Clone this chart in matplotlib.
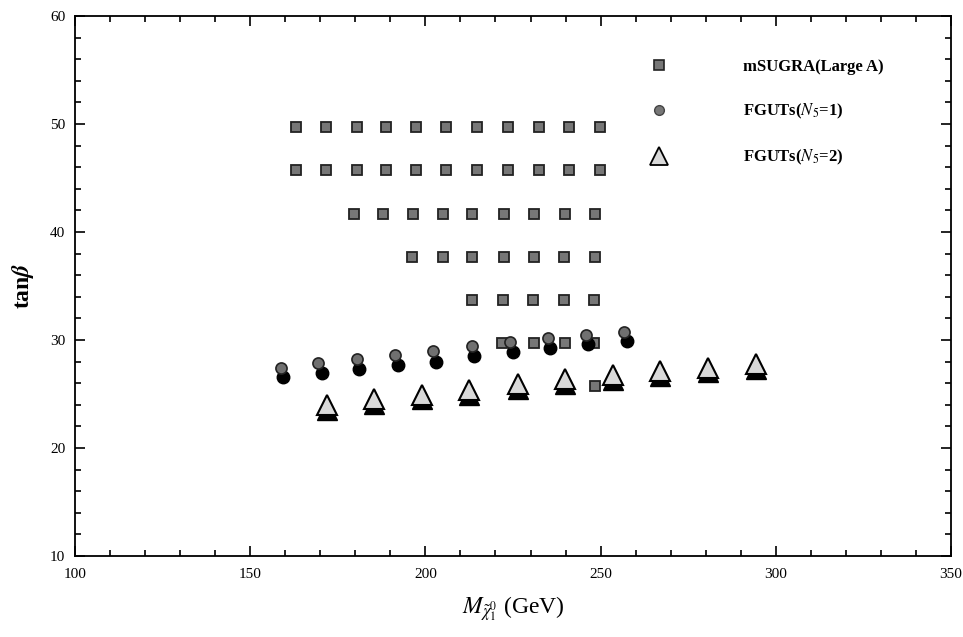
import matplotlib
matplotlib.use("Agg")
import matplotlib.pyplot as plt
from matplotlib.lines import Line2D
from matplotlib.ticker import MultipleLocator

plt.rcParams['font.family'] = ['Liberation Serif', 'DejaVu Serif']
plt.rcParams['mathtext.fontset'] = 'stix'

# mSUGRA (large A) grid, one list per tan(beta) row
sq_rows_tanb = [49.7, 45.7, 41.7, 37.7, 33.7, 29.7, 25.7]
sq_rows_mass = [
    [163.0, 171.6, 180.5, 188.8, 197.4, 206.0, 214.6, 223.6, 232.3, 240.9, 249.7],
    [163.0, 171.6, 180.5, 188.8, 197.4, 206.0, 214.6, 223.6, 232.3, 240.9, 249.7],
    [179.6, 188.0, 196.5, 204.9, 213.4, 222.3, 231.0, 239.8, 248.3],
    [196.3, 205.0, 213.4, 222.3, 230.9, 239.5, 248.3],
    [213.4, 222.1, 230.7, 239.5, 248.2],
    [222.0, 231.1, 239.8, 248.2],
    [248.3],
]

# FGUTs (N5=1): upper (grey) and lower (dark) points
n1_mass_a = [158.8, 169.3, 180.5, 191.3, 202.1, 213.3, 224.1, 235.0, 245.8, 256.7]
n1_tanb_a = [27.41, 27.87, 28.24, 28.61, 28.98, 29.44, 29.81, 30.19, 30.46, 30.74]
n1_mass_b = [159.4, 170.5, 181.0, 192.2, 203.0, 213.9, 225.0, 235.6, 246.4, 257.5]
n1_tanb_b = [26.55, 26.9, 27.35, 27.7, 28.0, 28.5, 28.85, 29.25, 29.6, 29.9]

# FGUTs (N5=2)
n2_mass = [171.9, 185.3, 199.0, 212.4, 226.4, 239.8, 253.5, 267.0, 280.7, 294.3]
n2_tanb_a = [23.95, 24.5, 24.95, 25.4, 25.9, 26.35, 26.75, 27.1, 27.45, 27.75]
n2_tanb_b = [23.5, 24.05, 24.5, 24.95, 25.45, 25.9, 26.3, 26.65, 27.0, 27.3]

fig = plt.figure(figsize=(9.63, 6.37), dpi=100)
ax = fig.add_axes([0.0779, 0.1272, 0.9096, 0.8477])

sq_x = [m for row in sq_rows_mass for m in row]
sq_y = [t for row, t in zip(sq_rows_mass, sq_rows_tanb) for _ in row]
ax.plot(sq_x, sq_y, 's', ms=7.5, mfc='#777777', mec='#222222', mew=1.3, ls='none')

ax.plot(n1_mass_b, n1_tanb_b, 'o', ms=9, mfc='black', mec='black', ls='none')
ax.plot(n1_mass_a, n1_tanb_a, 'o', ms=8, mfc='#707070', mec='#222222', mew=1.2, ls='none')

ax.plot(n2_mass, n2_tanb_b, '^', ms=14, mfc='black', mec='black', ls='none')
ax.plot(n2_mass, n2_tanb_a, '^', ms=14, mfc='#d9d9d9', mec='black', mew=1.5, ls='none')

ax.set_xlim(100, 350)
ax.set_ylim(10, 60)
ax.xaxis.set_major_locator(MultipleLocator(50))
ax.xaxis.set_minor_locator(MultipleLocator(10))
ax.yaxis.set_major_locator(MultipleLocator(10))
ax.yaxis.set_minor_locator(MultipleLocator(2))
ax.tick_params(which='both', direction='in', top=True, right=True, labelsize=11, width=1.2)
ax.tick_params(which='major', length=7)
ax.tick_params(which='minor', length=4)
ax.tick_params(axis='x', pad=9)
ax.tick_params(axis='y', pad=7)
for s in ax.spines.values():
    s.set_linewidth(1.3)

ax.set_xlabel(r'$M_{\tilde{\chi}^0_1}$ (GeV)', fontsize=17, labelpad=9)
ax.set_ylabel(r'tan$\boldsymbol{\beta}$', fontsize=17, fontweight='bold', labelpad=10)

handles = [
    Line2D([], [], marker='s', ls='none', ms=7, mfc='#777777', mec='#222222', mew=1.2),
    Line2D([], [], marker='o', ls='none', ms=7, mfc='#777777', mec='#444444', mew=1),
    Line2D([], [], marker='^', ls='none', ms=13, mfc='#d9d9d9', mec='black', mew=1.3),
]
labels = ['mSUGRA(Large A)', r'FGUTs($\mathit{N}_5$=1)', r'FGUTs($\mathit{N}_5$=2)']
ax.legend(handles, labels, loc='upper left', bbox_to_anchor=(0.648, 0.92), frameon=False,
          numpoints=1, handletextpad=4, labelspacing=1.6, borderpad=0, borderaxespad=0,
          prop={'weight': 'bold', 'size': 12})

fig.savefig('out.png', dpi=100)
